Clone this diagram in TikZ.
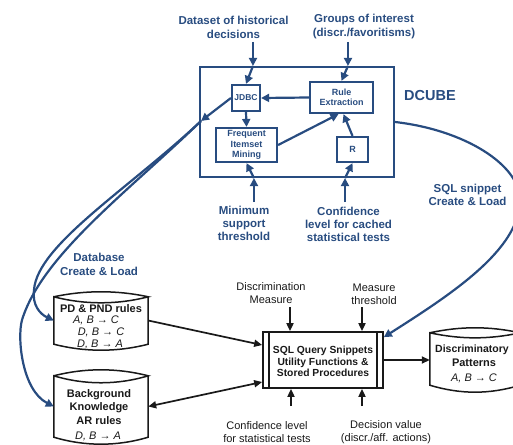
\documentclass[tikz,border=0pt]{standalone}
\usepackage{fontspec}
\setmainfont{Liberation Sans}
\usetikzlibrary{arrows.meta,calc}
\definecolor{navy}{RGB}{40,76,128}
\definecolor{ink}{RGB}{25,25,25}
\newcommand{\drawcyl}[4]{%
  \draw[cylline] (#1.north west) .. controls +(31,-#2) and +(-31,-#2) .. (#1.north east)
     .. controls +(-31,#3) and +(31,#3) .. (#1.north west) -- (#1.south west)
     .. controls +(31,#4) and +(-31,#4) .. (#1.south east) -- (#1.north east);}
\begin{document}
\begin{tikzpicture}[x=1pt,y=-1pt,
  blbl/.style={text=navy, font=\bfseries\fontsize{11.5}{14}\selectfont, align=center, inner sep=0pt},
  ibox/.style={draw=navy, line width=2.2pt, text=navy, font=\bfseries\fontsize{9}{10.5}\selectfont, align=center, inner sep=0pt},
  barrow/.style={draw=navy, line width=2.2pt, -{Triangle[length=8pt,width=8pt]}},
  klbl/.style={text=ink, font=\fontsize{11}{13}\selectfont, align=center, inner sep=0pt},
  ktitle/.style={text=ink, font=\bfseries\fontsize{11}{13}\selectfont, align=center, inner sep=0pt},
  kform/.style={text=ink, font=\itshape\fontsize{11}{13}\selectfont, inner sep=0pt},
  cylbody/.style={draw=none, inner sep=0pt},
  cylline/.style={draw=ink, line width=1.5pt},
  karrow/.style={draw=ink, line width=1.7pt, -{Triangle[length=8pt,width=7pt]}},
  kdarrow/.style={draw=ink, line width=1.7pt, {Triangle[length=8pt,width=7pt]}-{Triangle[length=8pt,width=7pt]}}
]
\useasboundingbox (0,0) rectangle (513,444);
\clip (0,0) rectangle (513,444);

% ---------------- DCUBE part ----------------
\node[blbl] (dataset) at (233.5,27) {Dataset of historical\\decisions};
\node[blbl] (groups) at (364,27) {Groups of interest\\(discr./favoritisms)};

\node[draw=navy, line width=2.2pt, minimum width=194pt, minimum height=110pt, inner sep=0pt] (dcube) at (297,122) {};
\node[text=navy, font=\bfseries\fontsize{14.5}{16}\selectfont, inner sep=0pt] (dcubelbl) at (430,96) {DCUBE};

\node[ibox, minimum width=28pt, minimum height=26pt, font=\bfseries\fontsize{8.5}{10}\selectfont] (jdbc) at (246,98) {JDBC};
\node[ibox, minimum width=63pt, minimum height=31pt] (rule) at (341.5,97.5) {Rule\\Extraction};
\node[ibox, minimum width=61pt, minimum height=34pt] (fim) at (246.5,145) {Frequent\\Itemset\\Mining};
\node[ibox, minimum width=31pt, minimum height=25pt] (r) at (352.5,149.5) {R};

\node[blbl, font=\bfseries\fontsize{11.5}{13}\selectfont] (minsup) at (244,223.5) {Minimum\\support\\threshold};
\node[blbl, font=\bfseries\fontsize{11.5}{13}\selectfont] (confc) at (348.5,224) {Confidence\\level for cached\\statistical tests};
\node[blbl, font=\bfseries\fontsize{11.5}{14}\selectfont] (dbcl) at (99,264) {Database\\Create \& Load};
\node[blbl, font=\bfseries\fontsize{11.5}{13}\selectfont] (sqlcl) at (467.5,194.5) {SQL snippet\\Create \& Load};

\coordinate (ds) at (253,42);
\coordinate (gi) at (348,42);
\coordinate (ms) at (254,202);
\coordinate (cl) at (345,202);
\coordinate (jt) at (201,121);

\draw[barrow] (ds) -- (ds |- dcube.north);
\draw[barrow] (ds |- dcube.north) -- (jdbc.north);
\draw[barrow] (gi) -- (gi |- dcube.north);
\draw[barrow] (gi |- dcube.north) -- (rule.north);
\draw[barrow] (ms) -- (ms |- dcube.south);
\draw[barrow] (ms |- dcube.south) -- (fim.south);
\draw[barrow] (cl) -- (cl |- dcube.south);
\draw[barrow] (cl |- dcube.south) -- (r.south);

\draw[barrow] (rule.west) -- (jdbc.east);
\draw[barrow] (jdbc.south) -- (fim.north);
\draw[barrow] (fim.east) -- ($(rule.south)+(-3,0)$);
\draw[barrow] (r.north) -- ($(rule.south)+(2,0)$);
\draw[barrow] (jdbc.west) -- (jt);

% ---------------- lower part ----------------
\node[cylbody, minimum width=94pt, minimum height=47pt] (pd) at (101,320.5) {};
\node[cylbody, minimum width=94pt, minimum height=61pt] (bk) at (101,406.5) {};
\node[cylbody, minimum width=90pt, minimum height=52pt] (disc) at (475,359) {};
\drawcyl{pd}{6.7}{8}{8}
\drawcyl{bk}{8}{9.3}{9.3}
\drawcyl{disc}{6.7}{6.7}{9.3}

\node[ktitle] (pd1) at (101,309) {PD \& PND rules};
\node[kform] (pd2) at (96,320) {A, B → C};
\node[kform] (pd3) at (101,332) {D, B → C};
\node[kform] (pd4) at (100,344) {D, B → A};

\node[ktitle] (bk1) at (99,395) {Background};
\node[ktitle] (bk2) at (99,408) {Knowledge};
\node[ktitle] (bk3) at (99,421) {AR rules};
\node[kform] (bk4) at (98,436) {D, B → A};

\node[ktitle, font=\bfseries\fontsize{10.5}{13}\selectfont] (disc1) at (472,350) {Discriminatory};
\node[ktitle] (disc2) at (474,363) {Patterns};
\node[kform] (disc3) at (474,378) {A, B → C};

\node[draw=ink, line width=1.7pt, minimum width=120pt, minimum height=56pt, inner sep=0pt] (sql) at (323,360) {};
\draw[ink, line width=1.7pt] ($(sql.north west)+(7,0)$) -- ($(sql.south west)+(7,0)$);
\draw[ink, line width=1.7pt] ($(sql.north east)+(-7,0)$) -- ($(sql.south east)+(-7,0)$);
\node[text=ink, font=\bfseries\fontsize{10.3}{11.5}\selectfont, align=center, inner sep=0pt] (sqltext) at (323,361.5) {SQL Query Snippets\\Utility Functions \&\\Stored Procedures};

\node[klbl] (discm) at (271,293.5) {Discrimination\\Measure};
\node[klbl] (mthr) at (374,294.5) {Measure\\threshold};
\node[klbl, font=\fontsize{11}{12.5}\selectfont] (conf2) at (267,432) {Confidence level\\for statistical tests};
\node[klbl, font=\fontsize{11}{12.5}\selectfont] (dec) at (386,432) {Decision value\\(discr./aff. actions)};

\coordinate (dmc) at (290,307);
\coordinate (mtc) at (362,307);
\coordinate (cfc) at (291,406);
\coordinate (dvc) at (362,406);
\draw[karrow] (dmc) -- (dmc |- sql.north);
\draw[karrow] (mtc) -- (mtc |- sql.north);
\draw[karrow] (cfc) -- (cfc |- sql.south);
\draw[karrow] (dvc) -- (dvc |- sql.south);

\draw[karrow] (pd.east) -- ($(sql.west)+(0,-15)$);
\draw[kdarrow] (bk.east) -- ($(sql.west)+(0,22)$);
\draw[karrow] (sql.east) -- (sql.east -| disc.west);

% ---------------- blue curves ----------------
\draw[barrow] (jt) .. controls (130,188) and (37,245) .. (34,290)
   .. controls (32,305) and (40,314) .. (pd.west);
\draw[barrow] (jt) .. controls (130,190) and (42,255) .. (22,320)
   .. controls (17,338) and (22,390) .. (bk.west);
\draw[barrow] (dcube.east) .. controls (465,130) and (520,165) .. (520,200)
   .. controls (520,250) and (450,295) .. ($(sql.north east)+(0,6)$);
\end{tikzpicture}
\end{document}
